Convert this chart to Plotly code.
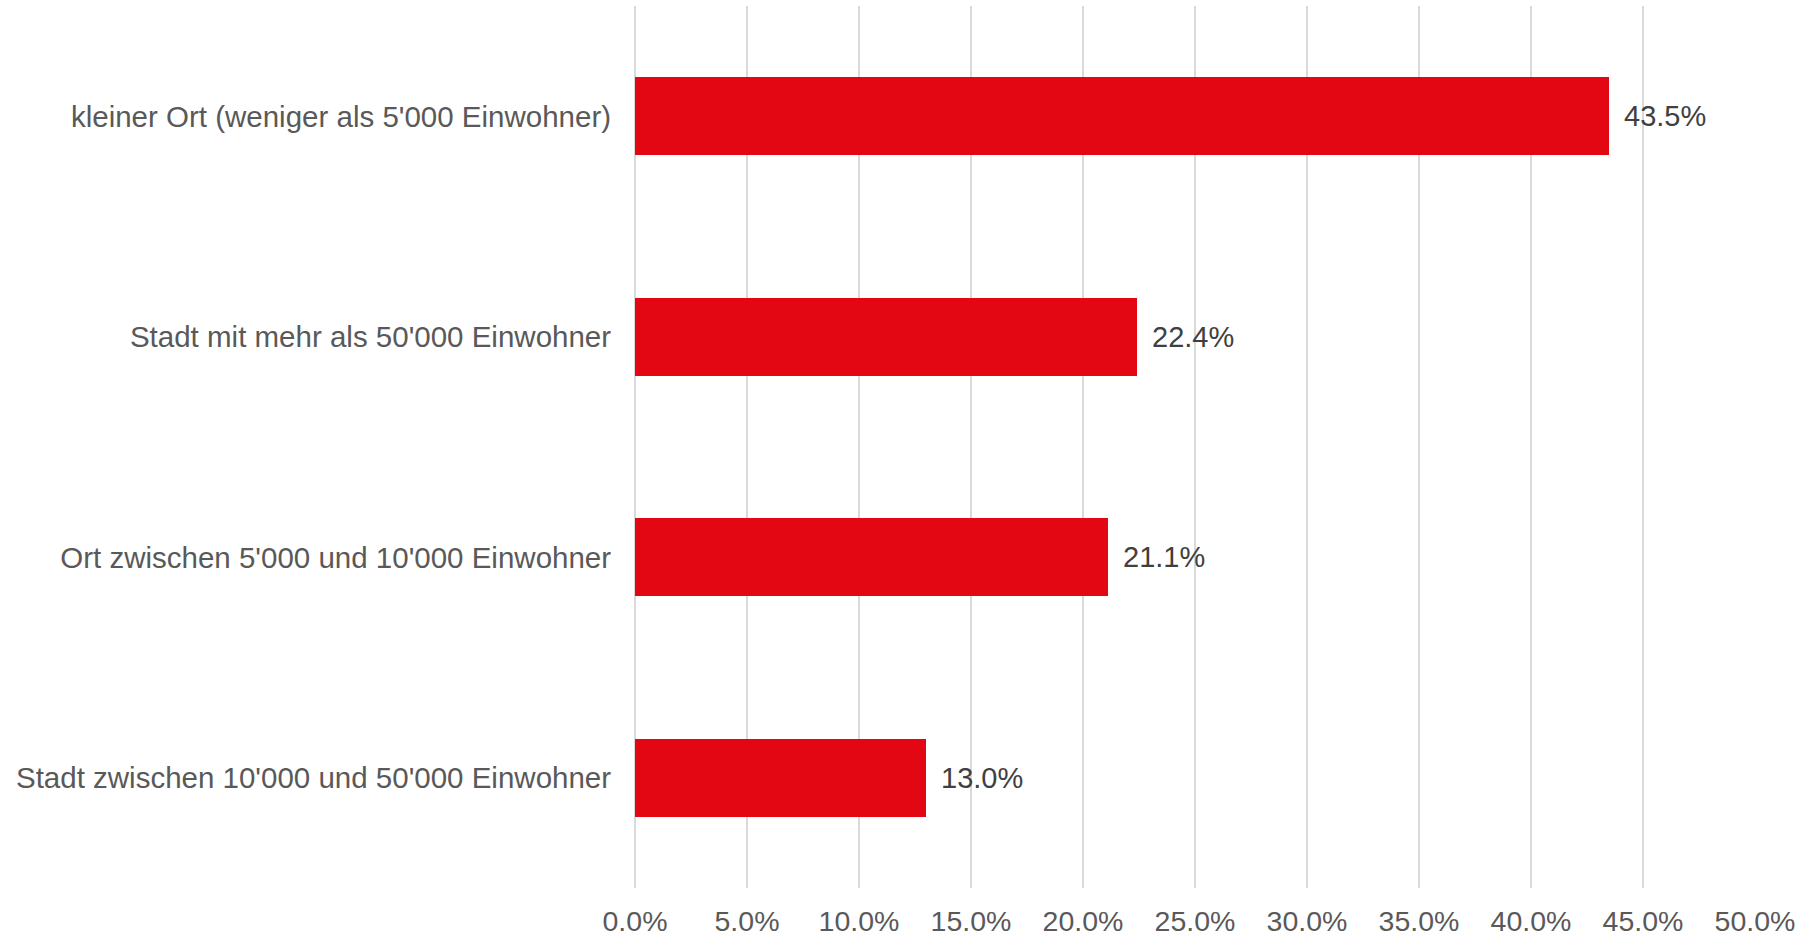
import plotly.graph_objects as go

categories = [
    "kleiner Ort (weniger als 5'000 Einwohner)",
    "Stadt mit mehr als 50'000 Einwohner",
    "Ort zwischen 5'000 und 10'000 Einwohner",
    "Stadt zwischen 10'000 und 50'000 Einwohner",
]
values = [0.435, 0.224, 0.211, 0.130]
tick_vals = [0, 0.05, 0.10, 0.15, 0.20, 0.25, 0.30, 0.35, 0.40, 0.45, 0.50]
tick_text = ["0.0%", "5.0%", "10.0%", "15.0%", "20.0%", "25.0%", "30.0%", "35.0%", "40.0%", "45.0%", "50.0%"]

FONT = "Liberation Sans, Arial, sans-serif"

fig = go.Figure()
fig.add_trace(go.Bar(
    x=values, y=categories, orientation="h",
    marker=dict(color="#E30613", line=dict(width=0)),
    width=0.354,
    hoverinfo="skip",
))

for v, c in zip(values, categories):
    fig.add_annotation(
        x=v, y=c, text=f"{v*100:.1f}%", showarrow=False,
        xanchor="left", yanchor="middle", xshift=13,
        font=dict(family=FONT, size=29, color="#404040"),
    )

fig.update_layout(
    width=1802, height=937,
    margin=dict(l=635, r=47, t=6, b=49),
    paper_bgcolor="white", plot_bgcolor="white",
    showlegend=False,
    bargap=0,
)
fig.update_xaxes(
    range=[0, 0.5], tickvals=tick_vals, ticktext=tick_text,
    showgrid=True, gridcolor="#D9D9D9", gridwidth=2,
    zeroline=True, zerolinecolor="#D9D9D9", zerolinewidth=2,
    showline=False, automargin=False,
    ticks="outside", ticklen=8, tickcolor="rgba(0,0,0,0)",
    tickfont=dict(family=FONT, size=28.5, color="#595959"),
)
fig.update_yaxes(
    autorange="reversed", showgrid=False, showline=False, zeroline=False,
    automargin=False,
    ticks="outside", ticklen=17, tickcolor="rgba(0,0,0,0)",
    tickfont=dict(family=FONT, size=29.5, color="#595959"),
)

fig.write_html("out.html")
